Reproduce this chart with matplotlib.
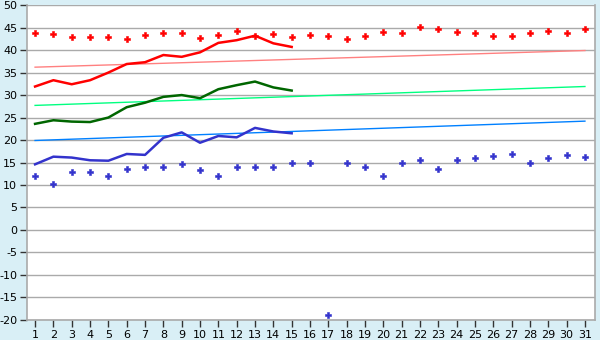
import matplotlib
matplotlib.use("Agg")
import matplotlib.pyplot as plt

days = list(range(1, 32))
line_days = list(range(1, 16))

record_max = [43.9, 43.5, 43.0, 43.0, 43.0, 42.4, 43.3, 43.9, 43.9, 42.6,
              43.3, 44.2, 43.2, 43.6, 43.0, 43.3, 43.1, 42.4, 43.1, 44.0,
              43.7, 45.1, 44.7, 44.0, 43.7, 43.1, 43.1, 43.7, 44.2, 43.9, 44.7]
record_min = [12.0, 10.2, 12.8, 12.8, 11.9, 13.5, 13.9, 13.9, 14.6, 13.3,
              11.9, 13.9, 13.9, 13.9, 15.0, 15.0, -19.0, 15.0, 14.1, 12.1,
              15.0, 15.5, 13.5, 15.5, 15.9, 16.4, 17.0, 15.0, 15.9, 16.6, 16.2]

tmax = [31.9, 33.3, 32.4, 33.3, 35.0, 36.9, 37.3, 38.9, 38.5, 39.5,
        41.6, 42.2, 43.2, 41.5, 40.7]
tavg = [23.6, 24.4, 24.1, 24.0, 25.0, 27.3, 28.3, 29.6, 30.0, 29.3,
        31.3, 32.2, 33.0, 31.7, 31.0]
tmin = [14.6, 16.3, 16.1, 15.5, 15.4, 16.9, 16.7, 20.5, 21.7, 19.4,
        20.9, 20.6, 22.7, 21.9, 21.5]

# normal (trend) lines, first and last day
trend_days = [1, 31]
norm_max = [36.2, 39.9]
norm_avg = [27.7, 31.9]
norm_min = [19.9, 24.2]

yticks = list(range(-20, 51, 5))

bg = "#d9eff6"
fig = plt.figure(figsize=(6, 3.4), dpi=100, facecolor=bg)
ax = fig.add_axes([0.045, 0.059, 0.9467, 0.926])
ax.set_facecolor("white")

ax.plot(trend_days, norm_max, color="#ff8080", lw=1)
ax.plot(trend_days, norm_avg, color="#00ff80", lw=1)
ax.plot(trend_days, norm_min, color="#0080ff", lw=1)

ax.plot(line_days, tmax, color="#ff0000", lw=1.8)
ax.plot(line_days, tavg, color="#006600", lw=1.8)
ax.plot(line_days, tmin, color="#3333cc", lw=1.8)

ax.plot(days, record_max, ls="none", marker="P", ms=4.2, color="#ff0000", mew=0.4)
ax.plot(days, record_min, ls="none", marker="P", ms=4.2, color="#3333cc", mew=0.4)

ax.set_xlim(0.56, 31.55)
ax.set_ylim(-20, 50)
ax.set_xticks(days)
ax.set_yticks(yticks)
ax.set_yticklabels([str(v) for v in yticks])
ax.grid(axis="y", color="#aaaaaa", lw=1)
ax.set_axisbelow(True)
ax.tick_params(axis="both", labelsize=8, length=5, width=1, color="#333333", pad=2)
for side in ["left", "bottom", "right"]:
    ax.spines[side].set_color("#aaaaaa")
    ax.spines[side].set_linewidth(1.2)
ax.spines["top"].set_visible(False)

fig.savefig("out.png", dpi=100, facecolor=bg)
